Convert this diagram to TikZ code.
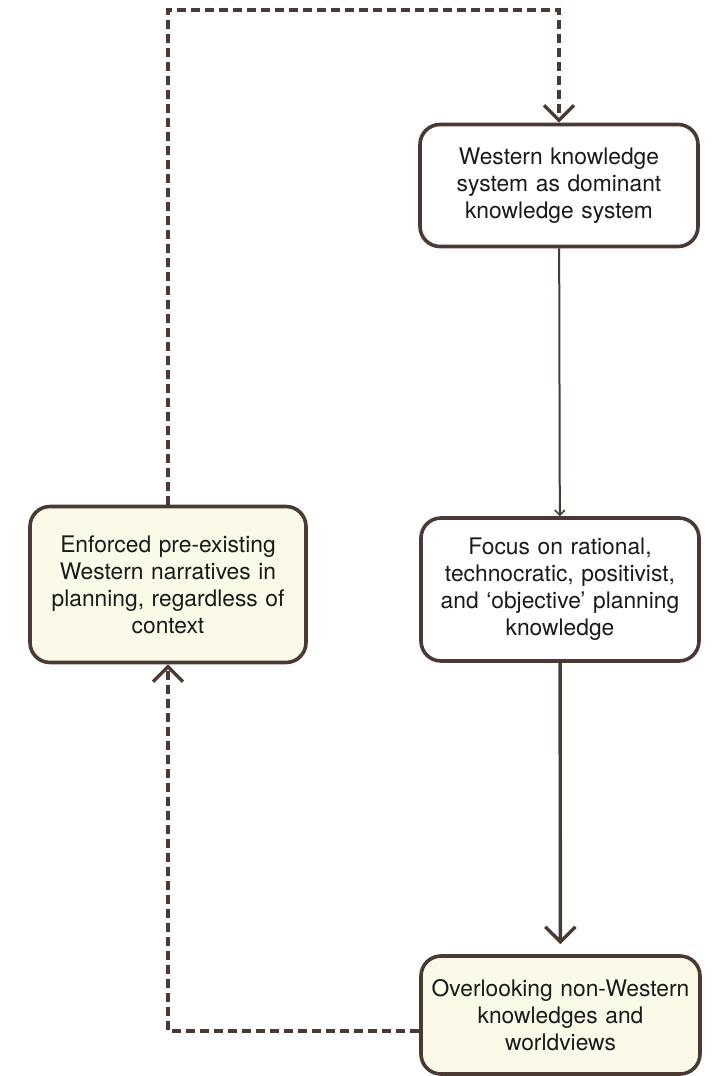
\documentclass[tikz,border=0pt]{standalone}
\usepackage{fontspec}
\setmainfont{TeX Gyre Heros}
\usetikzlibrary{arrows.meta}
\definecolor{edge}{HTML}{4A3A33}
\definecolor{cream}{HTML}{FBF9E8}
\definecolor{ink}{HTML}{1A1A1A}
\begin{document}
\begin{tikzpicture}[x=1pt,y=-1pt,
  box/.style={draw=edge, line width=3.6pt, rounded corners=20pt, align=center,
    text=ink, font=\fontsize{22.8}{27}\selectfont, inner sep=0pt, text width=276pt},
  plainbox/.style={box, fill=white},
  notebox/.style={box, fill=cream},
  bigtip/.style={-{Straight Barb[length=15pt,width=30pt,line width=3.4pt]}},
  smalltip/.style={-{Straight Barb[length=5pt,width=10pt,line width=1.6pt]}},
  loopline/.style={draw=edge, line width=3.6pt, dash pattern=on 9pt off 5pt, bigtip},
  thinline/.style={draw=edge, line width=2pt, smalltip},
  thickline/.style={draw=edge, line width=3.4pt, bigtip}
]
\useasboundingbox (0,0) rectangle (716,1076);

% boxes
\node[plainbox, minimum width=278pt, minimum height=122pt] (west) at (559,185.5)
  {Western knowledge\\system as dominant\\knowledge system};
\node[plainbox, minimum width=278pt, minimum height=143pt] (focus) at (560,589.5)
  {Focus on rational,\\technocratic, positivist,\\and ‘objective’ planning\\knowledge};
\node[notebox, minimum width=276pt, minimum height=156pt] (enf) at (168,584.5)
  {Enforced pre-existing\\Western narratives in\\planning, regardless of\\context};
\node[notebox, minimum width=279pt, minimum height=118pt] (over) at (560.5,1015)
  {Overlooking non-Western\\knowledges and\\worldviews};

% turning points of the feedback loop
\coordinate (toprow) at (0,10);
\path (over.west) ++(0,16) coordinate (overexit);

% connectors
\draw[thinline] (west) -- (focus);
\draw[thickline, shorten >=10pt] (focus) -- (over);
\draw[loopline] (overexit) -| (enf.south);
\draw[loopline] (enf.north) -- (enf.north |- toprow) -| (west.north);
\end{tikzpicture}
\end{document}
